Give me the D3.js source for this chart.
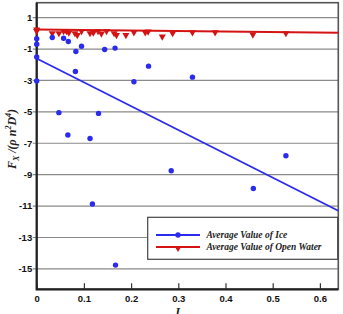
<!DOCTYPE html>
<html>
<head>
<meta charset="utf-8">
<script src="https://cdn.jsdelivr.net/npm/d3@7/dist/d3.min.js"></script>
<style>
  body { margin: 0; background: #fff; }
  svg { display: block; }
</style>
</head>
<body>
<div id="chart"></div>
<script>
// Data

const iceJ = [0, 0, 0, 0, 0.033, 0.057, 0.067, 0.083, 0.095, 0.082, 0.047, 0.066, 0.113, 0.131, 0.144, 0.166, 0.206, 0.237, 0.330, 0.528, 0.285, 0.118, 0.167, 0.459]
const iceF = [-0.35, -0.69, -1.5, -3.04, -0.27, -0.31, -0.52, -1.16, -0.82, -2.43, -5.05, -6.47, -6.7, -5.1, -1.03, -0.94, -3.08, -2.09, -2.79, -7.8, -8.75, -10.87, -14.76, -9.88]

const waterJ = [0, 0, 0.033, 0.047, 0.057, 0.063, 0.068, 0.081, 0.086, 0.095, 0.113, 0.12, 0.13, 0.137, 0.148, 0.164, 0.169, 0.189, 0.206, 0.23, 0.236, 0.266, 0.288, 0.33, 0.378, 0.458, 0.528]
const waterF = [0.3, 0.2, 0.07, 0.07, 0.2, 0.2, 0.1, 0.07, -0.05, 0.2, 0.07, 0.1, 0.2, 0.05, 0.2, 0.07, -0.05, -0.05, 0.13, 0.13, 0.17, -0.15, 0.07, 0.13, 0.13, -0.02, 0.07]

// fitted lines (end points)
const fitJ = [0, 0.639]
const iceFit = [-1.6, -11.3]
const waterFit = [0.25, 0.04]

const xTicks = [0, 0.1, 0.2, 0.3, 0.4, 0.5, 0.6]
const yTicks = [1, -1, -3, -5, -7, -9, -11, -13, -15]
const legendNames = ['Average Value of Ice', 'Average Value of Open Water']

const W = 343
const H = 314
const margin = { top: 2.7, right: 4.7, bottom: 24.7, left: 36.7 }

const blue = '#2b2bf0'
const red = '#d41414'

const svg = d3.select('#chart').append('svg').attr('width', W).attr('height', H)

const x = d3.scaleLinear().domain([0, 0.639]).range([margin.left, W - margin.right])
const y = d3.scaleLinear().domain([-16.3, 1.95]).range([H - margin.bottom, margin.top])

const tickFont = 'bold 9.5px "Liberation Sans", Arial, sans-serif'

// grid lines
svg.append('g')
  .selectAll('line')
  .data(yTicks)
  .join('line')
  .attr('x1', margin.left - 4)
  .attr('x2', W - margin.right)
  .attr('y1', (d) => y(d))
  .attr('y2', (d) => y(d))
  .attr('stroke', '#8a8a8a')
  .attr('stroke-width', 1.2)

// y tick labels
svg.append('g')
  .selectAll('text')
  .data(yTicks)
  .join('text')
  .attr('x', margin.left - 4.5)
  .attr('y', (d) => y(d) + 3.3)
  .attr('text-anchor', 'end')
  .style('font', tickFont)
  .attr('fill', '#111')
  .text((d) => d)

// x axis
const xAxis = svg.append('g')
  .attr('transform', `translate(0,${H - margin.bottom})`)
  .call(d3.axisBottom(x).tickValues(xTicks).tickSize(-6).tickPadding(6).tickFormat((d) => d === 0 ? '0' : d3.format('.1f')(d)))
xAxis.select('.domain').remove()
xAxis.selectAll('line').attr('stroke', '#333').attr('stroke-width', 1.2)
xAxis.selectAll('text')
  .style('font', tickFont)
  .attr('fill', '#111')

// frame
svg.append('rect')
  .attr('x', margin.left)
  .attr('y', margin.top)
  .attr('width', W - margin.left - margin.right)
  .attr('height', H - margin.top - margin.bottom)
  .attr('fill', 'none')
  .attr('stroke', '#555')
  .attr('stroke-width', 1.6)
svg.append('path')
  .attr('d', `M${margin.left},${margin.top}V${H - margin.bottom}H${W - margin.right}`)
  .attr('fill', 'none')
  .attr('stroke', '#222')
  .attr('stroke-width', 2.2)

// fitted lines
const line = d3.line().x((d) => x(d[0])).y((d) => y(d[1]))
svg.append('path')
  .datum(d3.zip(fitJ, iceFit))
  .attr('d', line)
  .attr('fill', 'none')
  .attr('stroke', blue)
  .attr('stroke-width', 1.8)
svg.append('path')
  .datum(d3.zip(fitJ, waterFit))
  .attr('d', line)
  .attr('fill', 'none')
  .attr('stroke', red)
  .attr('stroke-width', 2)

// points
const tri = d3.symbol().type(d3.symbolTriangle).size(22)
svg.append('g')
  .selectAll('path')
  .data(d3.zip(waterJ, waterF))
  .join('path')
  .attr('d', tri)
  .attr('transform', (d) => `translate(${x(d[0])},${y(d[1]) + 1}) rotate(180)`)
  .attr('fill', red)

svg.append('g')
  .selectAll('circle')
  .data(d3.zip(iceJ, iceF))
  .join('circle')
  .attr('cx', (d) => x(d[0]))
  .attr('cy', (d) => y(d[1]))
  .attr('r', 2.7)
  .attr('fill', blue)

// legend
const lg = svg.append('g')
lg.append('rect')
  .attr('x', 147.7)
  .attr('y', 217.3)
  .attr('width', 190)
  .attr('height', 42)
  .attr('fill', '#fff')
  .attr('stroke', '#444')
  .attr('stroke-width', 1.2)

const items = lg.selectAll('g.item')
  .data(legendNames)
  .join('g')
  .attr('class', 'item')
  .attr('transform', (d, i) => `translate(0,${235 + i * 12})`)
items.append('line')
  .attr('x1', 156)
  .attr('x2', 200)
  .attr('stroke', (d, i) => (i === 0 ? blue : red))
  .attr('stroke-width', 1.8)
items.filter((d, i) => i === 0).append('circle')
  .attr('cx', 178)
  .attr('r', 2.7)
  .attr('fill', blue)
items.filter((d, i) => i === 1).append('path')
  .attr('d', tri)
  .attr('transform', 'translate(178,1) rotate(180)')
  .attr('fill', red)
items.append('text')
  .attr('x', 206.5)
  .attr('y', 3.3)
  .style('font', 'italic bold 9.5px "Liberation Serif", "Times New Roman", serif')
  .attr('fill', '#222')
  .text((d) => d)

// axis titles
svg.append('text')
  .attr('x', 177)
  .attr('y', 315.5)
  .attr('text-anchor', 'middle')
  .style('font', 'italic bold 12px "Liberation Serif", serif')
  .attr('fill', '#222')
  .text('J')

const yl = svg.append('text')
  .attr('transform', 'translate(16,139) rotate(-90)')
  .attr('text-anchor', 'middle')
  .style('font', 'italic bold 12px "Liberation Serif", serif')
  .attr('fill', '#222')
yl.append('tspan').text('F')
yl.append('tspan').attr('dy', 3).style('font-size', '8px').text('X')
yl.append('tspan').attr('dy', -3).text(' /(\u03c1 ')
yl.append('tspan').text('n')
yl.append('tspan').attr('dy', -5).style('font-size', '8px').text('2')
yl.append('tspan').attr('dy', 5).text('D')
yl.append('tspan').attr('dy', -5).style('font-size', '8px').text('4')
yl.append('tspan').attr('dy', 5).text(')')
</script>
</body>
</html>
